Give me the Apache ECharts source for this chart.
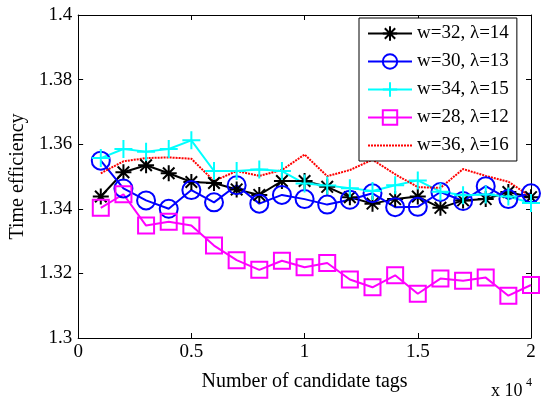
<!DOCTYPE html>
<html>
<head>
<meta charset="utf-8">
<script src="https://cdn.jsdelivr.net/npm/echarts@6/dist/echarts.min.js"></script>
<style>
  html, body { margin: 0; padding: 0; background: #fff; }
  #chart { width: 541px; height: 397px; }
</style>
</head>
<body>
<div id="chart"></div>
<script>
// number of candidate tags, in units of 10^4
const tags = [0.1, 0.2, 0.3, 0.4, 0.5, 0.6, 0.7, 0.8, 0.9, 1.0,
              1.1, 1.2, 1.3, 1.4, 1.5, 1.6, 1.7, 1.8, 1.9, 2.0];

const w32 = [1.3438, 1.3513, 1.3535, 1.3510, 1.3483, 1.3480, 1.3460, 1.3443, 1.3486, 1.3486,
             1.3468, 1.3436, 1.3416, 1.3430, 1.3438, 1.3403, 1.3426, 1.3430, 1.3452, 1.3436];
const w30 = [1.3549, 1.3463, 1.3426, 1.3400, 1.3458, 1.3420, 1.3473, 1.3416, 1.3443, 1.3430,
             1.3413, 1.3428, 1.3448, 1.3405, 1.3406, 1.3452, 1.3424, 1.3470, 1.3430, 1.3448];
const w34 = [1.3557, 1.3585, 1.3577, 1.3585, 1.3612, 1.3517, 1.3517, 1.3522, 1.3517, 1.3478,
             1.3472, 1.3464, 1.3455, 1.3473, 1.3488, 1.3453, 1.3442, 1.3444, 1.3438, 1.3418];
const w28 = [1.3403, 1.3445, 1.3348, 1.3360, 1.3348, 1.3286, 1.3241, 1.3211, 1.3239, 1.3219,
             1.3232, 1.3181, 1.3157, 1.3194, 1.3137, 1.3184, 1.3177, 1.3187, 1.3131, 1.3164];
const w36 = [1.3510, 1.3547, 1.3557, 1.3559, 1.3555, 1.3486, 1.3517, 1.3502, 1.3520, 1.3568,
             1.3501, 1.3520, 1.3552, 1.3507, 1.3467, 1.3465, 1.3523, 1.3502, 1.3484, 1.3437];

const xTicks = [0, 0.5, 1, 1.5, 2];
const yTicks = [1.3, 1.32, 1.34, 1.36, 1.38, 1.4];

const FONT = 'Liberation Serif';

// hollow matlab-like markers
const STAR = 'path://M0,-1L0,1M-1,0L1,0M-0.72,-0.72L0.72,0.72M-0.72,0.72L0.72,-0.72';
const PLUS = 'path://M0,-1L0,1M-1,0L1,0';
const CIRC = 'path://M1,0A1,1,0,1,1,-1,0A1,1,0,1,1,1,0Z';
const SQUARE = 'path://M-1,-1L1,-1L1,1L-1,1Z';

const pairs = (ys) => tags.map((x, i) => [x, ys[i]]);

const mkSeries = (name, ys, color, symbol, size, lineType, lineWidth) => ({
  name,
  type: 'line',
  data: pairs(ys),
  symbol,
  symbolSize: size,
  showSymbol: symbol !== 'none',
  lineStyle: { color, width: lineWidth, type: lineType },
  itemStyle: {
    color: 'rgba(0,0,0,0)',
    borderColor: symbol === 'none' ? 'rgba(0,0,0,0)' : color,
    borderWidth: symbol === 'none' ? 0 : 2
  },
  emphasis: { disabled: true }
});

const axisCommon = {
  type: 'value',
  axisLine: { show: true, onZero: false, lineStyle: { color: '#000', width: 1 } },
  axisTick: { show: true, inside: true, length: 5, lineStyle: { color: '#000' } },
  splitLine: { show: false }
};

const chart = echarts.init(document.getElementById('chart'));

chart.setOption({
  animation: false,
  backgroundColor: '#fff',
  grid: { left: 78, top: 15, right: 10, bottom: 47 },
  legend: {
    orient: 'vertical',
    left: 359,
    top: 18,
    padding: [6, 8, 6, 8],
    itemWidth: 44,
    itemHeight: 18,
    itemGap: 9,
    backgroundColor: '#fff',
    borderColor: '#000',
    borderWidth: 1,
    borderRadius: 0,
    lineStyle: { width: 2 },
    textStyle: { fontFamily: FONT, fontSize: 19, color: '#000', lineHeight: 16 },
    data: ['w=32, λ=14', 'w=30, λ=13', 'w=34, λ=15', 'w=28, λ=12', 'w=36, λ=16']
  },
  xAxis: [
    Object.assign({}, axisCommon, {
      min: 0, max: 2, interval: 0.5,
      name: 'Number of candidate tags',
      nameLocation: 'middle',
      nameGap: 34,
      nameTextStyle: { fontFamily: FONT, fontSize: 20, color: '#000' },
      axisLabel: {
        fontFamily: FONT, fontSize: 19, color: '#000', margin: 5,
        formatter: (v) => (xTicks.indexOf(v) >= 0 ? String(v) : '')
      }
    }),
    Object.assign({}, axisCommon, {
      position: 'top', min: 0, max: 2, interval: 0.5,
      axisLabel: { show: false }
    })
  ],
  yAxis: [
    Object.assign({}, axisCommon, {
      min: 1.3, max: 1.4, interval: 0.02,
      name: 'Time efficiency',
      nameLocation: 'middle',
      nameRotate: 90,
      nameGap: 44,
      nameTextStyle: { fontFamily: FONT, fontSize: 20, color: '#000' },
      axisLabel: {
        fontFamily: FONT, fontSize: 19, color: '#000', margin: 6,
        formatter: (v) => {
          const t = yTicks.find((y) => Math.abs(y - v) < 1e-9);
          return t === undefined ? '' : String(t);
        }
      }
    }),
    Object.assign({}, axisCommon, {
      position: 'right', min: 1.3, max: 1.4, interval: 0.02,
      axisLabel: { show: false }
    })
  ],
  graphic: [
    {
      type: 'text', left: 491, top: 382,
      style: { text: 'x 10', fontFamily: FONT, fontSize: 18, fill: '#000' }
    },
    {
      type: 'text', left: 526, top: 377,
      style: { text: '4', fontFamily: FONT, fontSize: 12, fill: '#000' }
    }
  ],
  series: [
    mkSeries('w=32, λ=14', w32, '#000000', STAR, 16, 'solid', 2),
    mkSeries('w=30, λ=13', w30, '#0000ff', CIRC, 18, 'solid', 2),
    mkSeries('w=34, λ=15', w34, '#00ffff', PLUS, 18, 'solid', 2),
    mkSeries('w=28, λ=12', w28, '#ff00ff', SQUARE, 16, 'solid', 2),
    mkSeries('w=36, λ=16', w36, '#ff0000', 'none', 0, [2, 1], 2)
  ]
});
</script>
</body>
</html>
